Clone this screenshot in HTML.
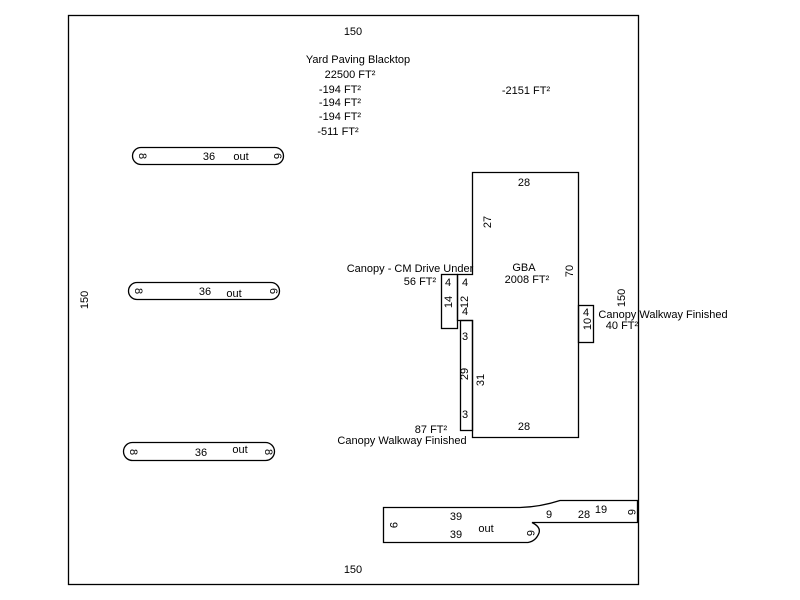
<!DOCTYPE html>
<html><head><meta charset="utf-8"><style>
html,body{margin:0;padding:0;background:#fff;width:800px;height:600px;overflow:hidden}
text{font-family:"Liberation Sans",sans-serif;font-size:11px;fill:#000}
</style></head><body>
<svg width="800" height="600" viewBox="0 0 800 600" xmlns="http://www.w3.org/2000/svg">
<g fill="none" stroke="#000" stroke-width="1.3">
<rect x="68.5" y="15.5" width="570" height="569"/>
<path d="M472.5 172.5 H578.5 V437.5 H472.5 V320.5 H457.5 V274.5 H472.5 Z"/>
<rect x="441.5" y="274.5" width="16" height="54"/>
<rect x="460.5" y="320.5" width="12" height="110"/>
<rect x="578.5" y="305.5" width="15" height="37"/>
<rect x="132.5" y="147.5" width="151" height="17" rx="8.5"/>
<rect x="128.5" y="282.5" width="151" height="17" rx="8.5"/>
<rect x="123.5" y="442.5" width="151" height="18" rx="9"/>
<path d="M383.5 507.5 H520 Q540 507 560 500.5 H637.5 V522.5 H532 Q541 527 539 533 Q536 541 528 542.5 H383.5 Z"/>
</g>
<g text-anchor="middle">
<text x="353" y="35">150</text>
<text x="353" y="573">150</text>
<text x="358" y="63">Yard Paving Blacktop</text>
<text x="350" y="78">22500 FT²</text>
<text x="340" y="93">-194 FT²</text>
<text x="340" y="106">-194 FT²</text>
<text x="340" y="120">-194 FT²</text>
<text x="338" y="135">-511 FT²</text>
<text x="526" y="94">-2151 FT²</text>
<text x="524" y="186">28</text>
<text x="524" y="430">28</text>
<text x="524" y="271">GBA</text>
<text x="527" y="283">2008 FT²</text>
<text x="410" y="272">Canopy - CM Drive Under</text>
<text x="420" y="285">56 FT²</text>
<text x="448" y="286">4</text>
<text x="465" y="286">4</text>
<text x="465" y="315">4</text>
<text x="465" y="340">3</text>
<text x="465" y="418">3</text>
<text x="431" y="433">87 FT²</text>
<text x="402" y="444">Canopy Walkway Finished</text>
<text x="586" y="316">4</text>
<text x="663" y="318">Canopy Walkway Finished</text>
<text x="622" y="329">40 FT²</text>
<text x="209" y="160">36</text>
<text x="241" y="160">out</text>
<text x="205" y="295">36</text>
<text x="234" y="297">out</text>
<text x="201" y="456">36</text>
<text x="240" y="453">out</text>
<text x="456" y="520">39</text>
<text x="456" y="538">39</text>
<text x="486" y="532">out</text>
<text x="549" y="518">9</text>
<text x="584" y="518">28</text>
<text x="601" y="513">19</text>
</g>
<g text-anchor="middle">
<text transform="translate(88,300) rotate(-90)">150</text>
<text transform="translate(625,298) rotate(-90)">150</text>
<text transform="translate(491,222) rotate(-90)">27</text>
<text transform="translate(573,271) rotate(-90)">70</text>
<text transform="translate(452,302) rotate(-90)">14</text>
<text transform="translate(468,302) rotate(-90)">12</text>
<text transform="translate(468,374) rotate(-90)">29</text>
<text transform="translate(484,380) rotate(-90)">31</text>
<text transform="translate(591,324) rotate(-90)">10</text>
<text transform="translate(139,156) rotate(90)">8</text>
<text transform="translate(274,156) rotate(90)">6</text>
<text transform="translate(135,291) rotate(90)">8</text>
<text transform="translate(270,291) rotate(90)">6</text>
<text transform="translate(130,452) rotate(90)">8</text>
<text transform="translate(265,452) rotate(90)">8</text>
<text transform="translate(390,525) rotate(90)">9</text>
<text transform="translate(527,533) rotate(90)">6</text>
<text transform="translate(628,512) rotate(90)">6</text>
</g>
</svg>
</body></html>
